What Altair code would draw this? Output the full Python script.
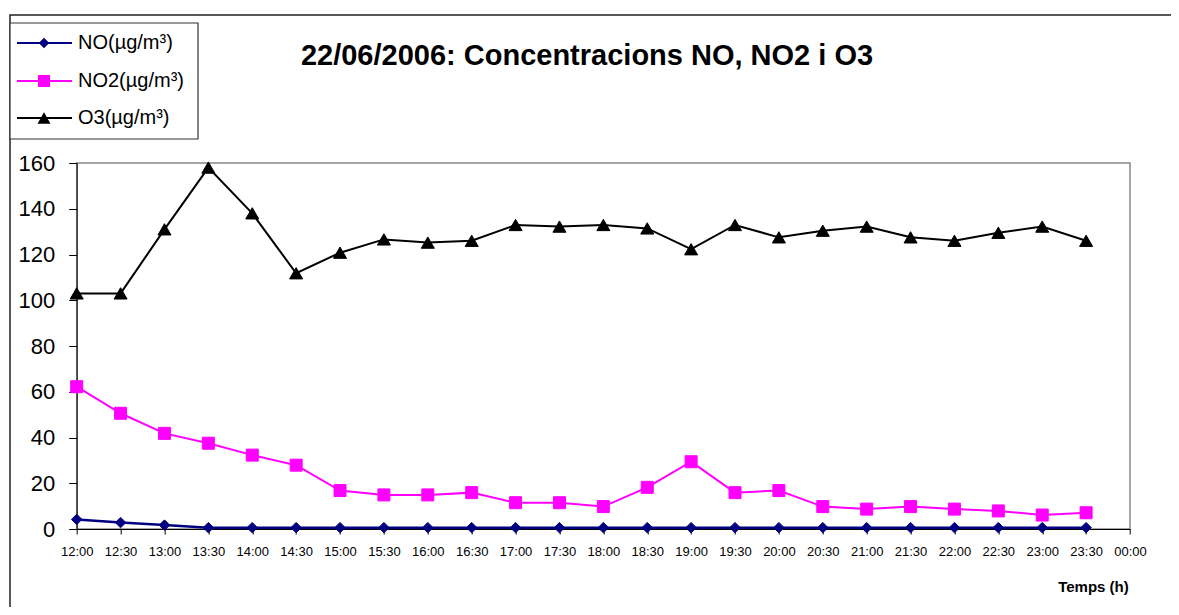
import altair as alt
import pandas as pd

times = ["12:00", "12:30", "13:00", "13:30", "14:00", "14:30", "15:00", "15:30",
         "16:00", "16:30", "17:00", "17:30", "18:00", "18:30", "19:00", "19:30",
         "20:00", "20:30", "21:00", "21:30", "22:00", "22:30", "23:00", "23:30"]
tick_labels = times + ["00:00"]

series = ["NO(µg/m³)", "NO2(µg/m³)", "O3(µg/m³)"]
no_vals = [4.2, 2.8, 1.7, 0.6, 0.6, 0.6, 0.6, 0.6, 0.6, 0.6, 0.6, 0.6,
           0.6, 0.6, 0.6, 0.6, 0.6, 0.6, 0.6, 0.6, 0.6, 0.6, 0.6, 0.6]
no2_vals = [62.2, 50.6, 41.8, 37.5, 32.3, 27.9, 16.8, 14.9, 14.9, 15.9, 11.5, 11.5,
            9.8, 18.2, 29.4, 15.9, 16.8, 9.8, 8.7, 9.8, 8.7, 7.9, 6.1, 7.1]
o3_vals = [103.0, 103.0, 131.0, 158.0, 138.0, 111.8, 120.8, 126.6, 125.2, 126.0, 132.9, 132.2,
           132.9, 131.4, 122.3, 132.9, 127.5, 130.4, 132.2, 127.5, 126.0, 129.5, 132.2, 126.0]
y_ticks = [0, 20, 40, 60, 80, 100, 120, 140, 160]

title_text = "22/06/2006: Concentracions NO, NO2 i O3"
x_title = "Temps (h)"

colors = ["#000080", "#FF00FF", "#000000"]
shapes = ["diamond", "square", "triangle-up"]
sizes = [110, 144, 170]
widths = [2.5, 2, 2]

rows = []
for name, vals in zip(series, [no_vals, no2_vals, o3_vals]):
    for t, v in zip(times, vals):
        rows.append({"time": t, "value": v, "series": name})
df = pd.DataFrame(rows)

W, H = 1053.3, 366
FONT = "Liberation Sans"

x_enc = alt.X(
    "time:O",
    scale=alt.Scale(type="point", domain=tick_labels, padding=0),
    axis=alt.Axis(
        title=x_title, labelAngle=0, labelFontSize=13, labelFont=FONT, labelColor="black",
        tickSize=5, tickColor="black", domainColor="black", labelPadding=11.5,
        labelOverlap=False, labelFlush=False, grid=False,
        titleX=1016.3, titleY=57, titleAlign="center", titleBaseline="middle",
        titleFontSize=15, titleFontWeight="bold", titleFont=FONT, titleColor="black",
    ),
)
y_enc = alt.Y(
    "value:Q",
    scale=alt.Scale(domain=[0, 160], nice=False),
    axis=alt.Axis(
        title=None, values=y_ticks, labelFontSize=22, labelFont=FONT, labelColor="black",
        tickSize=8, tickColor="black", domainColor="black", labelPadding=14, grid=False,
    ),
)

layers = []

# outer chart frame
frame = alt.Chart(pd.DataFrame({"a": [0]})).mark_rect(
    fillOpacity=0, stroke="#222222", strokeWidth=1.5
).encode(x=alt.value(-66.7), x2=alt.value(1120), y=alt.value(-148), y2=alt.value(470))
layers.append(frame)

for name, col, shp, sz, sw in zip(series, colors, shapes, sizes, widths):
    base = alt.Chart(df).transform_filter(alt.datum.series == name)
    layers.append(base.mark_line(color=col, strokeWidth=sw).encode(x=x_enc, y=y_enc))
    layers.append(base.mark_point(shape=shp, size=sz, filled=True, color=col, opacity=1,
                                  stroke=col, strokeWidth=1).encode(x=x_enc, y=y_enc))

# legend box
legend_box = alt.Chart(pd.DataFrame({"a": [0]})).mark_rect(
    fill="white", stroke="#333333", strokeWidth=1.2
).encode(x=alt.value(-66.7), x2=alt.value(121.3), y=alt.value(-140), y2=alt.value(-24))
layers.append(legend_box)

row_y = [-120, -82, -45]
for name, col, shp, sz, ry in zip(series, colors, shapes, sizes, row_y):
    ld = pd.DataFrame({"label": [name]})
    layers.append(alt.Chart(ld).mark_rule(color=col, strokeWidth=2).encode(
        x=alt.value(-59.7), x2=alt.value(-4.7), y=alt.value(ry)))
    layers.append(alt.Chart(ld).mark_point(shape=shp, size=sz, filled=True, color=col, opacity=1).encode(
        x=alt.value(-32.7), y=alt.value(ry)))
    layers.append(alt.Chart(ld).mark_text(align="left", baseline="middle", fontSize=20, font=FONT,
                                          color="black").encode(
        text="label:N", x=alt.value(1.3), y=alt.value(ry)))

title = alt.Chart(pd.DataFrame({"t": [title_text]})).mark_text(
    align="center", baseline="alphabetic", fontSize=29, fontWeight="bold", font=FONT, color="black"
).encode(text="t:N", x=alt.value(510.3), y=alt.value(-98))
layers.append(title)

chart = alt.layer(*layers).properties(
    width=W, height=H,
    autosize=alt.AutoSizeParams(type="none"),
    padding={"left": 68.7, "top": 155, "right": 41, "bottom": 78},
    background="white",
).configure_view(stroke="#888888", strokeWidth=1.5)

chart.save("out.html", embed_options={"renderer": "svg", "actions": False})
